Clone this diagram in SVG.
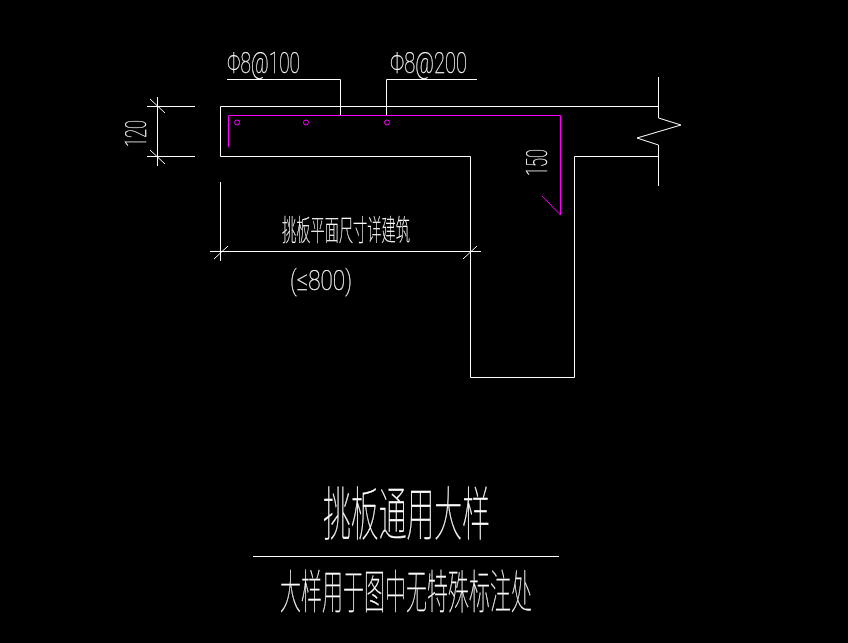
<svg xmlns="http://www.w3.org/2000/svg" width="848" height="643" viewBox="0 0 848 643">
<style>
.w{fill:none;stroke:#fff;stroke-width:1}
.m{fill:none;stroke:#f0f;stroke-width:1}
.t{fill:#fff;stroke:#fff;stroke-width:.25;font-family:Roboto,"Liberation Sans",sans-serif;font-weight:100}
.c{fill:#fff;stroke:#fff;stroke-width:.3;font-family:"Noto Sans CJK SC",sans-serif;font-weight:100}
</style>
<rect width="848" height="643" fill="#000"/>
<g id="connectors">
<path class="w" d="M227 79.500H340.500V115M386.500 115V79.500H477"/>
<path class="w" d="M157.500 97V166M147 106.500H195M147 156.500H195M150 99L165 113M150 150L165 164"/>
<path class="w" d="M210 251.500H481M220.500 182V261M214 259L228 246M463 259L477 246"/>
</g>
<g id="section">
<path class="w" d="M658.500 106.500H220.500V156.500H470.500V377.500H574.500V156.500H658.500"/>
<path class="w" d="M658.500 77V118L681 125L637 138L658.500 145V186"/>
</g>
<g id="rebar">
<path class="m" d="M228.500 147V115.500H560.500V215L542 196"/>
<circle class="m" cx="237" cy="122.500" r="2.500"/>
<circle class="m" cx="306" cy="122.500" r="2.500"/>
<circle class="m" cx="387" cy="122.500" r="2.500"/>
</g>
<g id="labels" opacity="0.999">
<text class="t" x="227" y="73" font-size="29" textLength="73" lengthAdjust="spacingAndGlyphs">Φ8@100</text>
<text class="t" x="390" y="73" font-size="29" textLength="77" lengthAdjust="spacingAndGlyphs">Φ8@200</text>
<text class="t" transform="translate(146 147) rotate(-90)" x="0" y="0" font-size="30" textLength="27" lengthAdjust="spacingAndGlyphs">120</text>
<text class="t" transform="translate(547 176) rotate(-90)" x="0" y="0" font-size="30" textLength="27" lengthAdjust="spacingAndGlyphs">150</text>
<text class="c" x="282" y="241" font-size="29" textLength="128" lengthAdjust="spacingAndGlyphs">挑板平面尺寸详建筑</text>
<text class="t" x="290" y="290" font-size="27" textLength="62" lengthAdjust="spacingAndGlyphs">(≤800)</text>
<text class="c" x="323" y="535" font-size="58" textLength="167" lengthAdjust="spacingAndGlyphs">挑板通用大样</text>
<text class="c" x="280" y="608" font-size="46" textLength="252" lengthAdjust="spacingAndGlyphs">大样用于图中无特殊标注处</text>
</g>
<path class="w" d="M253 556.500H559"/>
</svg>
